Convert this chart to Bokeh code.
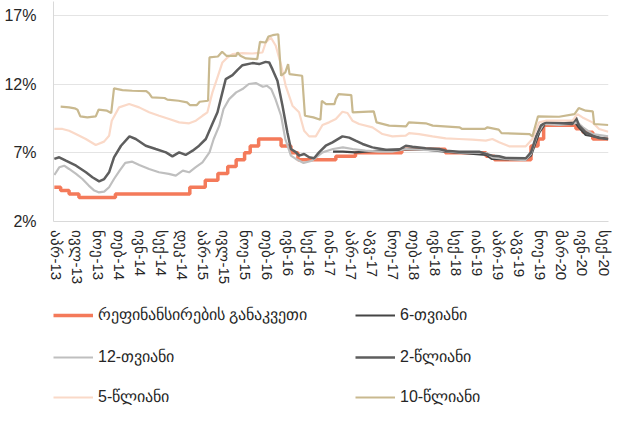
from bokeh.plotting import figure
from bokeh.layouts import column
from bokeh.models import FixedTicker, Legend, LegendItem, Range1d
from bokeh.embed import file_html
from bokeh.resources import INLINE

# x = week index (tick every 15 weeks)
tick_labels = ["აპრ-13", "ივლ-13", "ნოე-13", "თებ-14", "ივნ-14", "სექ-14", "დეკ-14",
               "აპრ-15", "ივლ-15", "ნოე-15", "თებ-16", "ივნ-16", "სექ-16", "იან-17",
               "აპრ-17", "აგვ-17", "ნოე-17", "თებ-18", "ივნ-18", "სექ-18", "იან-19",
               "აპრ-19", "აგვ-19", "ნოე-19", "მარ-20", "ივნ-20", "სექ-20"]
tick_pos = [i * 15 for i in range(len(tick_labels))]

# refinancing rate (step)
refi_w = [-1.5, 3, 9, 16, 42, 95, 106, 115, 122, 128, 134, 138, 144, 160, 167, 172,
          199, 213, 246, 277, 306, 312, 338, 343, 347, 370, 375, 382, 393]
refi_v = [4.5, 4.25, 4.0, 3.75, 4.0, 4.5, 5.0, 5.5, 6.0, 6.5, 7.0, 7.5, 8.0, 7.5, 7.0, 6.5,
          6.75, 7.0, 7.25, 7.0, 6.75, 6.5, 7.5, 8.0, 9.0, 8.75, 8.5, 8.0, 8.0]

# 6-month
m6_w = [197, 204, 213, 225, 246, 263, 277, 306, 310, 334, 338, 344, 348, 358, 369, 372, 377, 393]
m6_v = [7.08, 7.08, 7.03, 7.12, 7.27, 7.22, 7.08, 6.84, 6.55, 6.50, 6.79, 8.48, 9.09, 9.09,
        9.26, 8.85, 8.29, 8.0]

# 12-month
m12_w = [-1.5, 2, 5.5, 9, 14, 18.5, 23, 27, 30, 34, 37.5, 41, 45, 49, 54, 59, 66, 73, 80, 85,
         90, 94.5, 99, 104, 109, 112, 116, 119, 123, 128, 132.5, 137, 142, 147, 150, 153, 156,
         160, 163, 167, 170.5, 173, 176, 182, 189.5, 197, 204, 211, 220, 230, 239, 249, 258,
         273, 287, 306, 310.5, 320, 334, 338, 342.6, 347, 358, 367.5, 371, 375, 382, 393]
m12_v = [5.38, 5.94, 6.06, 5.82, 5.46, 5.09, 4.61, 4.25, 4.12, 4.17, 4.49, 5.09, 5.70, 6.26,
         6.35, 6.11, 5.82, 5.58, 5.46, 5.34, 5.70, 5.58, 5.94, 6.30, 7.03, 8.0, 8.97, 10.18,
         10.90, 11.39, 11.63, 12.0, 12.07, 11.80, 11.87, 11.63, 10.90, 9.69, 8.0, 6.79, 6.55,
         6.42, 6.26, 6.42, 7.03, 7.27, 7.39, 7.27, 7.15, 7.08, 7.08, 7.27, 7.22, 7.15, 7.03,
         6.98, 6.67, 6.55, 6.47, 6.91, 8.36, 9.09, 9.02, 9.09, 9.21, 8.85, 8.36, 8.19]

# 2-year
y2_w = [-1.5, 2, 6.7, 14, 21, 25.6, 30.4, 34, 37.5, 41, 46, 52, 56.5, 63.6, 70.7, 78, 82.6,
        87.4, 92, 97, 101.6, 106.4, 111, 114.7, 118.2, 120.6, 125.4, 129, 132.5, 139.6, 144.4,
        149, 151.5, 153.8, 157.4, 161, 164.5, 167, 170.5, 172.8, 176.4, 180, 183.5, 187, 191.8,
        196.6, 203.7, 208.5, 213, 218, 225, 234.6, 244, 248.8, 253.6, 263, 272.6, 277.3, 286.8,
        301, 305.8, 310.5, 315.3, 320, 334.3, 338, 341.4, 345, 348.5, 358, 367.5, 370, 372.3,
        377, 381.8, 386.5, 393]
y2_v = [6.55, 6.67, 6.42, 6.06, 5.58, 5.22, 4.92, 5.09, 5.58, 6.67, 7.51, 8.19, 8.0, 7.51,
        7.27, 7.03, 6.74, 7.03, 6.84, 7.15, 7.51, 8.0, 9.09, 9.94, 11.39, 12.36, 12.65, 13.03,
        13.37, 13.52, 13.45, 13.61, 13.57, 13.08, 12.24, 10.42, 8.48, 7.27, 7.05, 6.79, 6.91,
        6.67, 6.60, 7.03, 7.51, 7.76, 8.19, 8.10, 7.88, 7.64, 7.39, 7.22, 7.22, 7.51, 7.44,
        7.32, 7.27, 7.15, 7.08, 7.08, 6.91, 6.79, 6.74, 6.62, 6.60, 7.03, 8.12, 8.97, 9.21,
        9.16, 9.09, 9.57, 8.97, 8.48, 8.24, 8.07, 8.0]

# 5-year
y5_w = [-1.5, 4.3, 9, 13.8, 20.9, 28, 33.9, 37.5, 39.4, 44.6, 51.8, 58.9, 66, 73.1, 80.3,
        87.4, 94.5, 99.3, 104, 107.5, 111.1, 114.7, 118.2, 121.8, 125.4, 132.5, 139.6, 146.7,
        149.1, 152.7, 156.2, 159.8, 163.3, 168.1, 172.8, 176.4, 180, 184.7, 189.5, 194.2, 199,
        203.7, 207.3, 210.8, 215.6, 225.1, 232.2, 239.3, 248.8, 251.2, 258.3, 267.8, 277.3,
        286.8, 296.3, 305.8, 310.5, 315.3, 322.4, 334.3, 339, 343.8, 348.5, 358, 367.5, 371.1,
        374.7, 381.8, 386.5, 393]
y5_v = [8.73, 8.73, 8.60, 8.36, 8.0, 7.56, 7.81, 8.24, 9.33, 10.30, 10.54, 10.30, 9.94, 9.69,
        9.45, 9.21, 9.14, 9.33, 9.69, 9.94, 11.39, 12.48, 13.57, 13.93, 14.17, 14.24, 14.22,
        14.29, 15.02, 15.38, 14.78, 13.45, 11.87, 10.42, 9.94, 8.60, 8.19, 8.19, 9.02, 9.21,
        9.45, 9.98, 9.89, 9.33, 9.09, 8.85, 8.36, 8.19, 8.24, 8.43, 8.36, 8.19, 8.05, 8.0,
        7.95, 7.88, 8.0, 7.76, 7.47, 7.47, 8.0, 9.21, 9.33, 9.33, 9.33, 9.81, 9.57, 9.21,
        8.73, 8.53]

# 10-year
y10_w = [3, 9, 13, 15, 17, 22, 28, 30, 36, 39, 41, 47, 54, 64, 66, 68, 77, 79, 87, 93, 95,
         100, 102, 108, 109, 115, 118, 121, 128, 129, 131, 135, 143, 145, 149, 151, 154, 158,
         160, 163, 165, 166, 175, 177, 183, 188, 189, 192, 198, 199, 201, 210, 211, 226, 228,
         237, 249, 251, 263, 268, 287, 289, 305, 307, 315, 317, 337, 339, 343, 358, 369, 372,
         377, 382, 383, 393]
y10_v = [10.35, 10.30, 10.23, 10.13, 9.65, 9.57, 9.65, 10.13, 10.06, 9.89, 11.68, 11.56,
         11.51, 11.48, 11.32, 11.03, 10.98, 10.86, 10.78, 10.66, 10.47, 10.47, 10.71, 10.78,
         13.93, 14.0, 14.34, 14.05, 14.05, 14.29, 14.05, 13.86, 13.81, 15.07, 15.02, 15.45,
         15.55, 15.62, 12.60, 12.84, 13.45, 12.72, 12.60, 9.69, 9.57, 9.40, 10.78, 10.54,
         10.54, 10.90, 11.27, 11.19, 9.94, 10.01, 9.21, 8.97, 8.92, 9.21, 9.14, 8.97, 8.85,
         8.73, 8.73, 8.85, 8.68, 8.43, 8.36, 8.19, 9.65, 9.62, 9.81, 10.25, 10.06, 10.01,
         9.09, 9.02]

y_ticks = [2, 7, 12, 17]

series = [
    ("რეფინანსირების განაკვეთი", refi_w, refi_v, "#F47A5A", 3.5, "step"),
    ("6-თვიანი", m6_w, m6_v, "#454545", 2.2, "line"),
    ("12-თვიანი", m12_w, m12_v, "#BFBFBF", 2.2, "line"),
    ("2-წლიანი", y2_w, y2_v, "#5E5E5E", 2.5, "line"),
    ("5-წლიანი", y5_w, y5_v, "#FAD9C8", 2.2, "line"),
    ("10-წლიანი", y10_w, y10_v, "#C9B98F", 2.2, "line"),
]

FONT = "Liberation Sans"
TXT = "#262626"


def draw(fig, w, v, color, lw, kind):
    if kind == "step":
        return fig.step(w, v, mode="after", line_color=color, line_width=lw)
    return fig.line(w, v, line_color=color, line_width=lw)


# ---- main chart ----
p = figure(width=613, height=301, output_backend="svg", toolbar_location=None,
           x_range=Range1d(-2.1, 393.2), y_range=Range1d(2, 18),
           min_border_left=53, min_border_right=5, min_border_top=1, min_border_bottom=80)
p.outline_line_color = None
p.background_fill_color = "white"
p.border_fill_color = "white"

p.xgrid.grid_line_color = None
p.ygrid.ticker = FixedTicker(ticks=y_ticks)
p.ygrid.grid_line_color = "#E4E4E4"
p.ygrid.grid_line_width = 1

p.yaxis.ticker = FixedTicker(ticks=y_ticks)
p.yaxis.major_label_overrides = {t: f"{t}%" for t in y_ticks}
p.yaxis.axis_line_color = "#D9D9D9"
p.yaxis.major_tick_line_color = None
p.yaxis.minor_tick_line_color = None
p.yaxis.major_tick_out = 0
p.yaxis.major_label_standoff = 17
p.yaxis.major_label_text_font = FONT
p.yaxis.major_label_text_font_size = "16px"
p.yaxis.major_label_text_color = TXT

p.xaxis.ticker = FixedTicker(ticks=tick_pos)
p.xaxis.major_label_overrides = {t: lab for t, lab in zip(tick_pos, tick_labels)}
p.xaxis.major_label_orientation = "vertical"
p.xaxis.axis_line_color = "#D9D9D9"
p.xaxis.major_tick_line_color = None
p.xaxis.minor_tick_line_color = None
p.xaxis.major_tick_out = 0
p.xaxis.major_label_standoff = 9
p.xaxis.major_label_text_font = FONT
p.xaxis.major_label_text_font_size = "15px"
p.xaxis.major_label_text_color = TXT

for name, w, v, color, lw, kind in series:
    draw(p, w, v, color, lw, kind)

# ---- legend panel (same series, kept out of view; only the legend shows) ----
pl = figure(width=613, height=104, output_backend="svg", toolbar_location=None,
            x_range=Range1d(-2.1, 393.2), y_range=Range1d(100, 101),
            x_axis_location=None, y_axis_location=None,
            min_border_left=0, min_border_right=0, min_border_top=0, min_border_bottom=0)
pl.outline_line_color = None
pl.grid.visible = False
pl.background_fill_color = "white"
pl.border_fill_color = "white"

leg_renderers = [(name, draw(pl, w, v, color, lw, kind)) for name, w, v, color, lw, kind in series]
rows = [leg_renderers[0:2], leg_renderers[2:4], leg_renderers[4:6]]
row_vy = [81, 39, -1]
for row, vy in zip(rows, row_vy):
    lg = Legend(items=[LegendItem(label=lab, renderers=[r]) for lab, r in row],
                orientation="horizontal", location=(0, vy), spacing=10,
                label_width=247, label_height=16, glyph_height=16, glyph_width=40,
                label_standoff=5, padding=0, margin=0, border_line_color=None,
                background_fill_alpha=0, label_text_font=FONT,
                label_text_font_size="16px", label_text_color=TXT)
    pl.add_layout(lg, "center")

layout = column(p, pl, spacing=0)
open("out.html", "w").write(file_html(layout, INLINE))
